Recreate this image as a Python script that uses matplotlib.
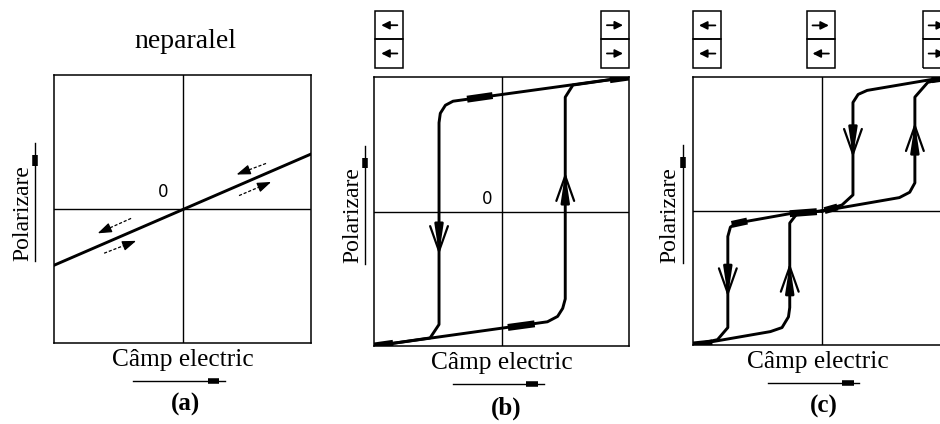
import matplotlib.pyplot as plt
import numpy as np

plt.rcParams['font.family'] = ['Liberation Serif', 'DejaVu Serif']

# image size in pixels
W, H = 940, 424

# ---- panel (a): linear (non-parallel) dielectric ----
lin_E = [-1.0, 1.0]
lin_P = [-0.42, 0.41]
# dashed half arrows beside the line: start E, start P, end E, end P
half_arrows = [(0.65, 0.34, 0.40, 0.25),
               (0.44, 0.10, 0.71, 0.21),
               (-0.40, -0.07, -0.68, -0.19),
               (-0.61, -0.33, -0.34, -0.23)]

# ---- panel (b): ferroelectric hysteresis loop ----
b_down_E = [1.0, -0.38, -0.44, -0.48, -0.49, -0.49, -0.56, -1.0]
b_down_P = [1.0, 0.82, 0.79, 0.73, 0.66, -0.84, -0.94, -1.0]
b_up_E = [-1.0, 0.36, 0.44, 0.48, 0.50, 0.50, 0.56, 1.0]
b_up_P = [-1.0, -0.82, -0.78, -0.72, -0.65, 0.85, 0.94, 1.0]
# heavy pieces on the loop
b_thick_E = [[0.85, 1.0], [-0.27, -0.07], [0.05, 0.26], [-1.0, -0.85]]
b_thick_P = [[0.98, 1.0], [0.835, 0.862], [-0.862, -0.835], [-1.0, -0.98]]
# direction arrows on the vertical parts: E, tail P, tip P
b_dir = [(-0.49, -0.13, -0.34), (0.50, 0.14, 0.31)]
# polarisation cells above the plot: left E of the cell, arrows top/bottom
b_cells = [(-0.99, [-1, -1]), (0.78, [1, 1])]

# ---- panel (c): antiferroelectric double loop ----
c_right_down_E = [1.0, 0.84, 0.35, 0.28, 0.24, 0.24, 0.155, 0.0]
c_right_down_P = [1.0, 0.98, 0.90, 0.87, 0.81, 0.12, 0.045, 0.0]
c_right_up_E = [0.0, 0.60, 0.68, 0.72, 0.72, 0.82, 1.0]
c_right_up_P = [0.0, 0.10, 0.14, 0.21, 0.85, 0.96, 1.0]
c_left_down_E = [0.0, -0.25, -0.66, -0.71, -0.73, -0.73, -0.81, -1.0]
c_left_down_P = [0.0, -0.02, -0.09, -0.12, -0.19, -0.87, -0.96, -1.0]
c_left_up_E = [-1.0, -0.40, -0.31, -0.26, -0.25, -0.25, -0.19, 0.0]
c_left_up_P = [-1.0, -0.90, -0.87, -0.79, -0.72, -0.09, -0.015, 0.0]
c_thick_E = [[-1.0, -0.85], [0.85, 1.0], [-0.70, -0.58], [-0.25, -0.04], [0.02, 0.12]]
c_thick_P = [[-1.0, -0.985], [0.98, 1.0], [-0.10, -0.075], [-0.02, -0.005], [0.003, 0.03]]
c_dir = [(0.24, 0.55, 0.38), (0.72, 0.49, 0.68),
         (-0.73, -0.49, -0.66), (-0.25, -0.55, -0.37)]
c_cells = [(-1.0, [-1, -1]), (-0.12, [1, -1]), (0.78, [1, 1])]

xlabel = "Câmp electric"
ylabel = "Polarizare"

fig = plt.figure(figsize=(W / 100, H / 100), dpi=100)


def px_axes(left, top, right, bottom):
    """ axes placed by pixel box, with the two centre lines """
    ax = fig.add_axes([left / W, 1 - bottom / H, (right - left) / W, (bottom - top) / H])
    ax.set_xlim(-1, 1)
    ax.set_ylim(-1, 1)
    ax.set_xticks([])
    ax.set_yticks([])
    for s in ax.spines.values():
        s.set_linewidth(1.1)
    ax.axhline(0, color='k', lw=1.0)
    ax.axvline(0, color='k', lw=1.0)
    return ax


def labels(ax, text_x, ind_x, xl_x, ind_E, tag_x, tag):
    """ axis names with their small indicator arrows and the panel tag """
    ax.text(text_x, -0.03, ylabel, rotation=90, ha='center', va='center',
            fontsize=17, clip_on=False)
    ax.plot([ind_x, ind_x], [-0.39, 0.49], color='k', lw=1.0, clip_on=False)
    ax.plot([ind_x, ind_x], [0.32, 0.40], color='k', lw=4, solid_capstyle='butt', clip_on=False)
    ax.text(xl_x, -1.17, xlabel, ha='center', va='baseline', fontsize=18.3, clip_on=False)
    ax.plot(ind_E, [-1.28, -1.28], color='k', lw=1.0, clip_on=False)
    sq = ind_E[1] - 0.09
    ax.plot([sq - 0.045, sq + 0.045], [-1.28, -1.28], color='k', lw=4,
            solid_capstyle='butt', clip_on=False)
    ax.text(tag_x, -1.46, tag, ha='center', va='center', fontsize=18,
            fontweight='bold', clip_on=False)


def loop(ax, branches, thick_E, thick_P, dirs):
    """ draw loop branches, heavy pieces and vertical direction arrows """
    for E, P in branches:
        ax.plot(E, P, color='k', lw=2.1, solid_joinstyle='round')
    for E, P in zip(thick_E, thick_P):
        ax.plot(E, P, color='k', lw=5, solid_capstyle='butt')
    for x, tail, tip in dirs:
        ax.annotate('', xy=(x, tip), xytext=(x, tail),
                    arrowprops=dict(arrowstyle='->,head_length=0.9,head_width=0.32',
                                    color='k', lw=1.6, mutation_scale=20))
        ax.annotate('', xy=(x, tip), xytext=(x, tail),
                    arrowprops=dict(arrowstyle='-|>,head_length=0.8,head_width=0.12',
                                    color='k', lw=2.0, mutation_scale=20))


def cells(ax, cell_list):
    """ two stacked boxes with the dipole directions above the plot """
    w, h, top = 0.22, 0.21, 1.49
    for left, dirs in cell_list:
        for i, d in enumerate(dirs):
            y0 = top - (i + 1) * h
            ax.add_patch(plt.Rectangle((left, y0), w, h, fill=False, ec='k',
                                       lw=1.1, clip_on=False))
            cx, cy = left + w / 2, y0 + h / 2
            ax.annotate('', xy=(cx + d * 0.085, cy), xytext=(cx - d * 0.085, cy),
                        annotation_clip=False,
                        arrowprops=dict(arrowstyle='-|>,head_length=0.6,head_width=0.3',
                                        color='k', lw=1.3, mutation_scale=8))


# panel (a)
ax_a = px_axes(54, 75, 311, 343)
ax_a.plot(lin_E, lin_P, color='k', lw=2.1)
for x0, y0, x1, y1 in half_arrows:
    fx, fy = x0 + 0.75 * (x1 - x0), y0 + 0.75 * (y1 - y0)
    ax_a.plot([x0, fx], [y0, fy], color='k', lw=0.9, ls=(0, (2.5, 1.5)))
    ax_a.annotate('', xy=(x1, y1), xytext=(fx, fy),
                  arrowprops=dict(arrowstyle='-|>,head_length=0.7,head_width=0.25',
                                  color='k', lw=0.9, mutation_scale=12))
ax_a.text(-0.15, 0.13, '0', family='DejaVu Sans', fontsize=12, ha='center', va='center')
ax_a.text(0.02, 1.25, 'neparalel', ha='center', va='center', fontsize=20, clip_on=False)
labels(ax_a, -1.24, -1.15, 0.0, [-0.385, 0.33], 0.02, '(a)')

# panel (b)
ax_b = px_axes(374, 77, 629, 346)
loop(ax_b, [(b_down_E, b_down_P), (b_up_E, b_up_P)], b_thick_E, b_thick_P, b_dir)
ax_b.text(-0.11, 0.09, '0', family='DejaVu Sans', fontsize=12, ha='center', va='center')
cells(ax_b, b_cells)
labels(ax_b, -1.165, -1.07, 0.0, [-0.38, 0.33], 0.04, '(b)')

# panel (c), cut off at the right edge of the picture
ax_c = px_axes(693, 77, 951, 345)
loop(ax_c, [(c_right_down_E, c_right_down_P), (c_right_up_E, c_right_up_P),
            (c_left_down_E, c_left_down_P), (c_left_up_E, c_left_up_P)],
     c_thick_E, c_thick_P, c_dir)
cells(ax_c, c_cells)
labels(ax_c, -1.18, -1.08, -0.03, [-0.42, 0.29], 0.015, '(c)')

plt.savefig('out.png', dpi=100)
